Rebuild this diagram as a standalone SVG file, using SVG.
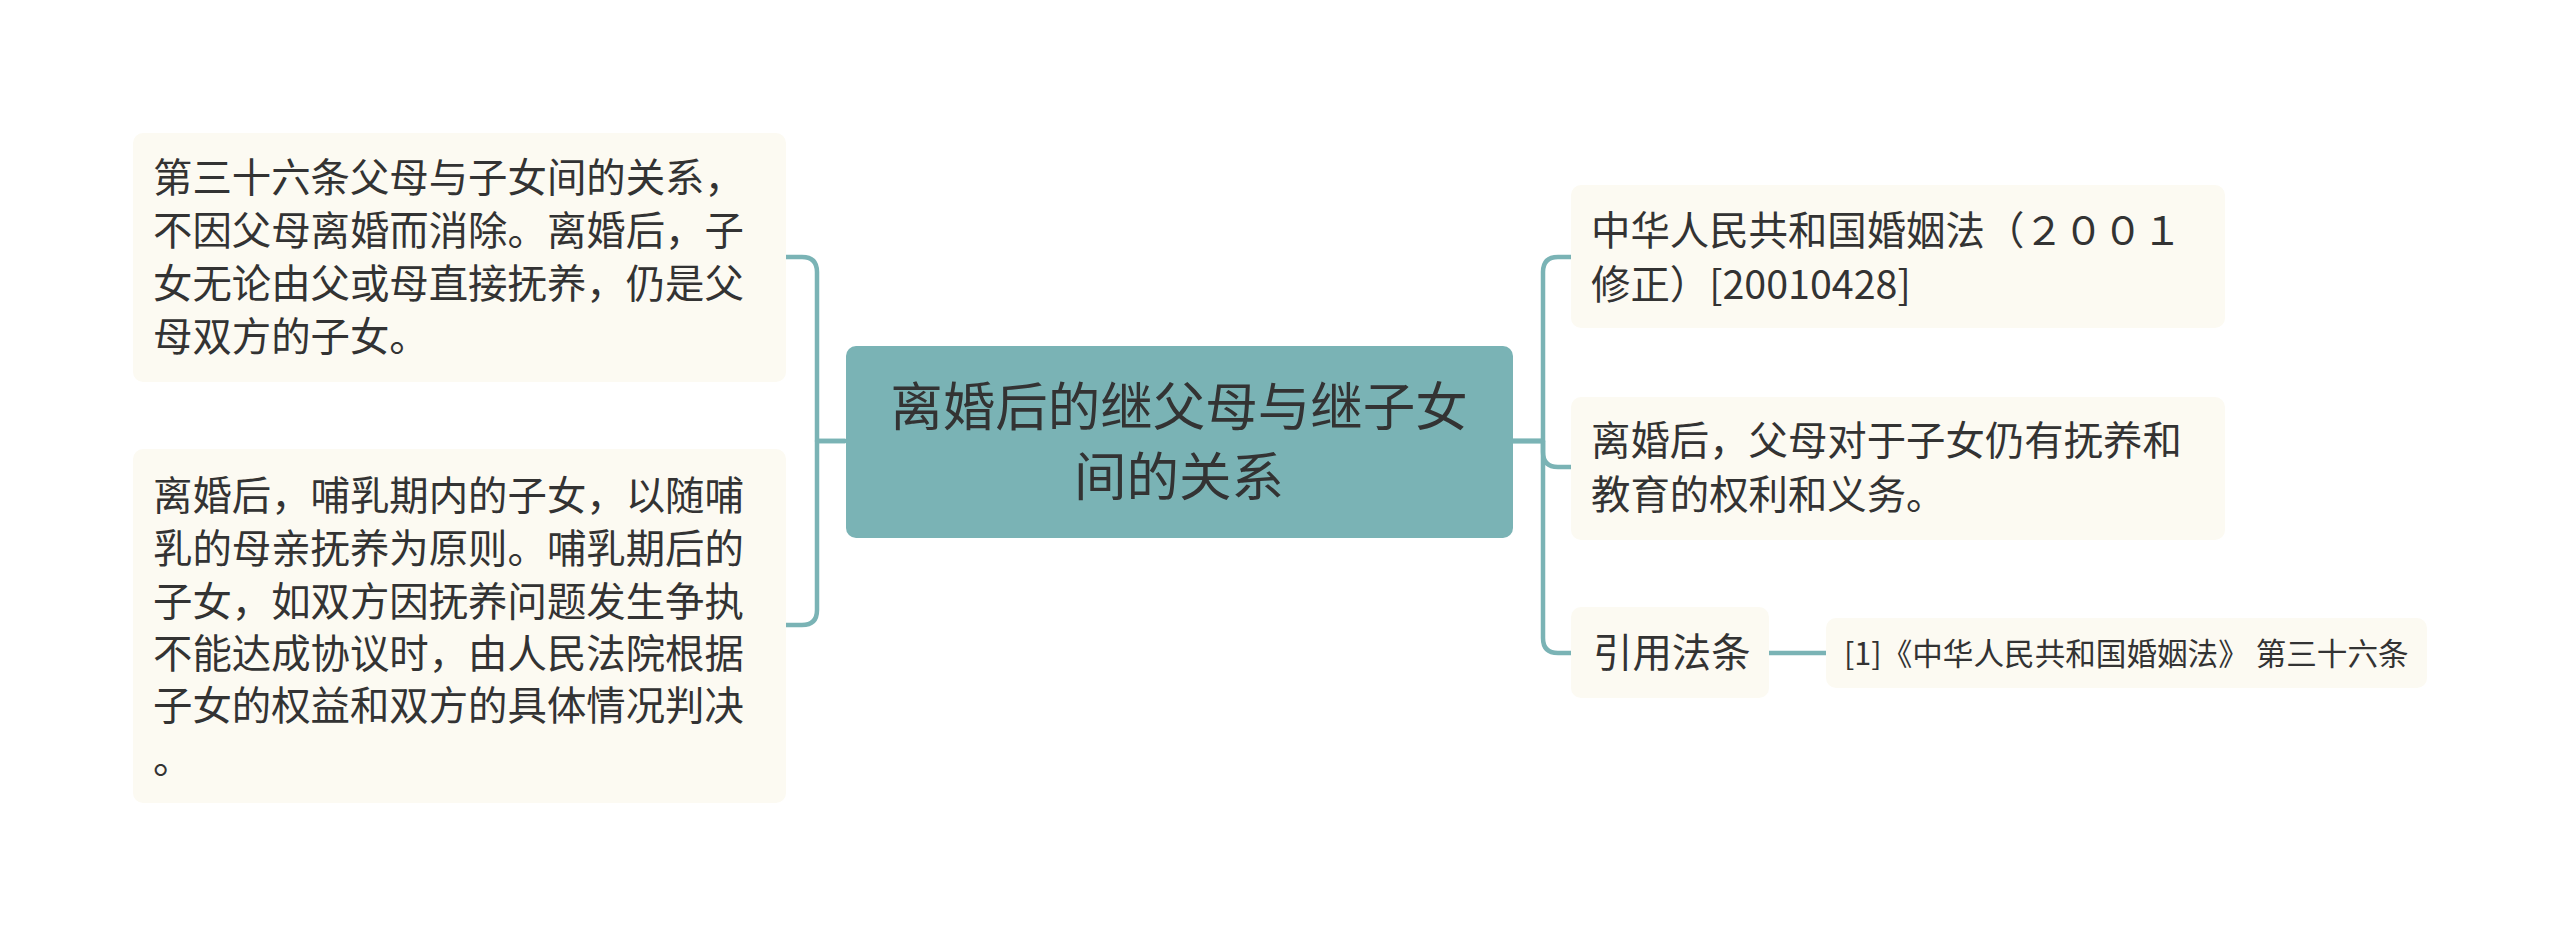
<svg xmlns="http://www.w3.org/2000/svg" width="2560" height="937" viewBox="0 0 2560 937">
<style>
.n{fill:#fcfaf2}
.c{fill:#7ab3b5}
.t{font-family:"Noto Sans CJK SC","Noto Sans",sans-serif;fill:#333333;font-size:39.4px}
.tc{font-size:52.5px;text-anchor:middle}
.ts{font-size:30.6px}
.e{fill:none;stroke:#7ab3b5;stroke-width:4.5;stroke-linecap:round;stroke-linejoin:round}
</style>
<rect width="2560" height="937" fill="#ffffff"/>
<g id="connectors">
<path class="e" d="M845,441 H817 V272 Q817,257 802,257 H786"/>
<path class="e" d="M845,441 H817 V610 Q817,625 802,625 H786"/>
<path class="e" d="M1513,441 H1543 V272 Q1543,257 1558,257 H1571"/>
<path class="e" d="M1513,441 H1543 V452 Q1543,467 1558,467 H1571"/>
<path class="e" d="M1513,441 H1543 V638 Q1543,653 1558,653 H1571"/>
<path class="e" d="M1769,653 H1826"/>
</g>
<g id="center">
<rect class="c" x="846" y="346" width="667" height="192" rx="10"/>
<text class="t tc" x="1179" y="426">离婚后的继父母与继子女</text>
<text class="t tc" x="1179" y="496">间的关系</text>
</g>
<g id="left1">
<rect class="n" x="133" y="133" width="653" height="249" rx="10"/>
<text class="t" x="153" y="192">第三十六条父母与子女间的关系，</text>
<text class="t" x="153" y="245">不因父母离婚而消除。离婚后，子</text>
<text class="t" x="153" y="298">女无论由父或母直接抚养，仍是父</text>
<text class="t" x="153" y="351">母双方的子女。</text>
</g>
<g id="left2">
<rect class="n" x="133" y="449" width="653" height="354" rx="10"/>
<text class="t" x="153" y="510">离婚后，哺乳期内的子女，以随哺</text>
<text class="t" x="153" y="563">乳的母亲抚养为原则。哺乳期后的</text>
<text class="t" x="153" y="616">子女，如双方因抚养问题发生争执</text>
<text class="t" x="153" y="668">不能达成协议时，由人民法院根据</text>
<text class="t" x="153" y="720">子女的权益和双方的具体情况判决</text>
<text class="t" x="153" y="773">。</text>
</g>
<g id="right1">
<rect class="n" x="1571" y="185" width="654" height="143" rx="10"/>
<text class="t" x="1591" y="245">中华人民共和国婚姻法（２００１</text>
<text class="t" x="1591" y="299">修正）[20010428]</text>
</g>
<g id="right2">
<rect class="n" x="1571" y="397" width="654" height="143" rx="10"/>
<text class="t" x="1591" y="455">离婚后，父母对于子女仍有抚养和</text>
<text class="t" x="1591" y="509">教育的权利和义务。</text>
</g>
<g id="right3">
<rect class="n" x="1571" y="607" width="198" height="91" rx="10"/>
<text class="t" x="1593" y="667">引用法条</text>
</g>
<g id="right4">
<rect class="n" x="1826" y="618" width="601" height="70" rx="10"/>
<text class="t ts" x="1844" y="665">[1]《中华人民共和国婚姻法》 第三十六条</text>
</g>
</svg>
